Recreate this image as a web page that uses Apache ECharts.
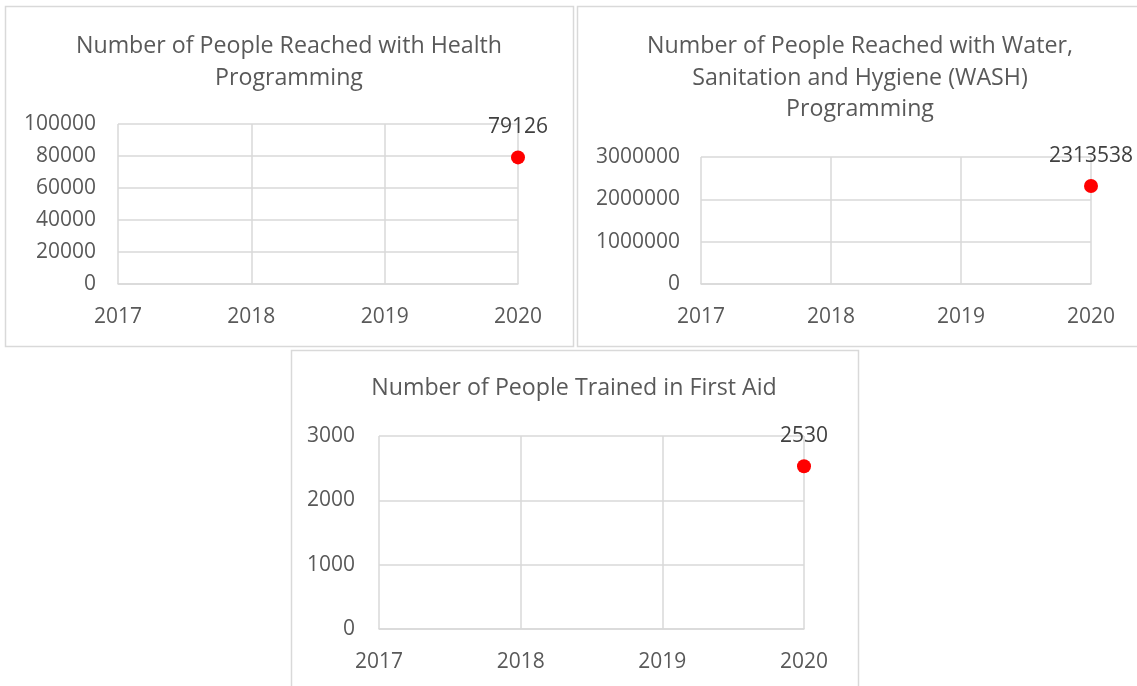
<!DOCTYPE html>
<html><head><meta charset="utf-8">
<script src="https://cdn.jsdelivr.net/npm/echarts@6/dist/echarts.min.js"></script>
<style>html,body{margin:0;padding:0;background:#fff}#c{width:1137px;height:686px}</style>
</head><body><div id="c"></div>
<script>
const years = ['2017','2018','2019','2020'];
const healthValues = [null, null, null, 79126];
const washValues = [null, null, null, 2313538];
const firstAidValues = [null, null, null, 2530];
const titles = [
  'Number of People Reached with Health\nProgramming',
  'Number of People Reached with Water,\nSanitation and Hygiene (WASH)\nProgramming',
  'Number of People Trained in First Aid'
];
const yMax = [100000, 3000000, 3000];
const yInterval = [20000, 1000000, 1000];
const seriesData = [healthValues, washValues, firstAidValues];

const FONT = 'Open Sans';
const grids = [
  {left:118, right:619, top:124, bottom:402},
  {left:701, right:46, top:157, bottom:402},
  {left:379, right:333, top:436, bottom:57}
];
const titlePos = [
  {left:284, top:26},
  {left:855, top:26},
  {left:569, top:368}
];
const ylabMargin = [22, 21, 24];

const chart = echarts.init(document.getElementById('c'));
const option = {
  animation:false,
  backgroundColor:'#fff',
  textStyle:{fontFamily:FONT},
  graphic:[
    {type:'rect', shape:{x:5.5,y:6.5,width:568,height:340}, style:{fill:'none',stroke:'#d9d9d9',lineWidth:1.5}},
    {type:'rect', shape:{x:577.5,y:6.5,width:570,height:340}, style:{fill:'none',stroke:'#d9d9d9',lineWidth:1.5}},
    {type:'rect', shape:{x:291.5,y:350.5,width:567,height:350}, style:{fill:'none',stroke:'#d9d9d9',lineWidth:1.5}}
  ],
  title: titles.map((t,i)=>({
    text:t, left:titlePos[i].left, top:titlePos[i].top, textAlign:'center',
    textStyle:{fontFamily:FONT, fontSize:23.2, fontWeight:'normal', color:'#595959', lineHeight:31.5}
  })),
  grid: grids,
  xAxis: grids.map((g,i)=>({
    type:'category', gridIndex:i, data:years, boundaryGap:false,
    axisLine:{show:true, lineStyle:{color:'#d9d9d9', width:1.5}},
    axisTick:{show:false},
    axisLabel:{color:'#595959', fontSize:21, fontFamily:FONT, margin:23},
    splitLine:{show:true, lineStyle:{color:'#d9d9d9', width:1.5}}
  })),
  yAxis: grids.map((g,i)=>({
    type:'value', gridIndex:i, min:0, max:yMax[i], interval:yInterval[i],
    axisLine:{show:false}, axisTick:{show:false},
    axisLabel:{color:'#595959', fontSize:21, fontFamily:FONT, margin:ylabMargin[i], formatter:v=>String(v)},
    splitLine:{show:true, lineStyle:{color:'#d9d9d9', width:1.5}}
  })),
  series: seriesData.map((d,i)=>({
    type:'line', xAxisIndex:i, yAxisIndex:i, data:d,
    symbol:'circle', symbolSize:14, showSymbol:true,
    itemStyle:{color:'#ff0000'}, lineStyle:{width:0},
    label:{show:true, position:'top', distance:13, color:'#404040', fontSize:21, fontFamily:FONT}
  }))
};
chart.setOption(option);
</script></body></html>
